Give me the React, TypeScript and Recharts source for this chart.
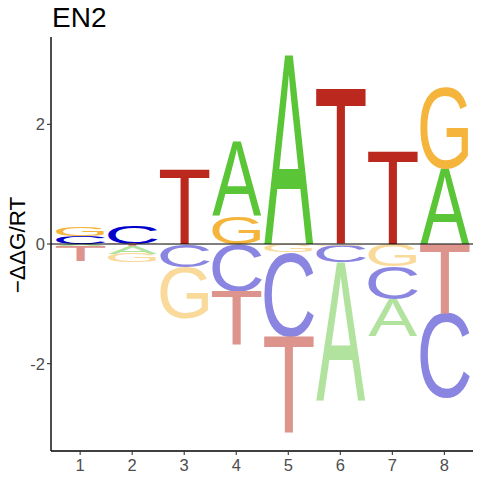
import React from 'react';
import { BarChart, Bar, XAxis, YAxis, ReferenceLine } from 'recharts';

// Position-wise -ΔΔG/RT values
const positions = [1, 2, 3, 4, 5, 6, 7, 8];
const valuesA = [-0.03, -0.12, -0.02, 1.23, 3.15, -2.3, -0.61, 1.25];
const valuesC = [0.13, 0.31, -0.37, -0.8, -1.42, -0.28, -0.55, -1.43];
const valuesG = [0.16, -0.15, -0.87, 0.47, -0.14, -0.03, -0.38, 1.36];
const valuesT = [-0.25, -0.04, 1.24, -0.89, -1.59, 2.59, 1.54, -1.16];
const letters = ['A', 'C', 'G', 'T'];
const xTicks = [1, 2, 3, 4, 5, 6, 7, 8];
const yTicks = [-2, 0, 2];
const title = 'EN2';
const yLabel = '\u2212\u0394\u0394G/RT';

const posColors: Record<string, string> = { A: '#5BC538', C: '#0000CC', G: '#F5B53C', T: '#BB291E' };
const negColors: Record<string, string> = { A: '#B1E39F', C: '#8A85E1', G: '#FADA9B', T: '#DC948D' };

const series: Record<string, number[]> = { A: valuesA, C: valuesC, G: valuesG, T: valuesT };

const data = positions.map((p, i) => {
  const row: any = { pos: p };
  const vals = letters.map((l) => ({ l, v: series[l][i] }));
  const up = vals.filter((d) => d.v > 0).sort((a, b) => a.v - b.v);
  const down = vals.filter((d) => d.v <= 0).sort((a, b) => b.v - a.v);
  let acc = 0;
  up.forEach((d) => {
    row[d.l] = [acc, acc + d.v];
    row[d.l + '_v'] = d.v;
    acc += d.v;
  });
  acc = 0;
  down.forEach((d) => {
    row[d.l] = [acc + d.v, acc];
    row[d.l + '_v'] = d.v;
    acc += d.v;
  });
  return row;
});

// approximate ink bounding boxes of Liberation Sans glyphs (font units / 2048)
const glyphBox: Record<string, number[]> = {
  A: [0, 1366, 0, 1409],
  C: [100, 1390, -25, 1434],
  G: [100, 1480, -25, 1434],
  T: [50, 1200, 0, 1409],
};

const FONT = "'Liberation Sans', Arial, sans-serif";

const makeShape = (letter: string) => (props: any) => {
  const { x, y, width, height, payload } = props;
  const top = Math.min(y, y + height);
  const h = Math.abs(height);
  if (!(h > 0.01) || !(width > 0)) return <g />;
  const v = payload[letter + '_v'];
  const color = v > 0 ? posColors[letter] : negColors[letter];
  const [x0, x1, y0, y1] = glyphBox[letter];
  const fs = 100;
  const u = fs / 2048;
  const sx = width / ((x1 - x0) * u);
  const sy = h / ((y1 - y0) * u);
  const tx = x - x0 * u * sx;
  const ty = top + y1 * u * sy;
  return (
    <text
      transform={`translate(${tx},${ty}) scale(${sx},${sy})`}
      fontSize={fs}
      fontFamily={FONT}
      fill={color}
    >
      {letter}
    </text>
  );
};

const shapes: Record<string, any> = {
  A: makeShape('A'),
  C: makeShape('C'),
  G: makeShape('G'),
  T: makeShape('T'),
};

export default function App() {
  return (
    <div style={{ position: 'fixed', left: 0, top: 0, width: 480, height: 480, background: '#fff' }}>
      <BarChart
        width={480}
        height={480}
        data={data}
        margin={{ top: 37, right: 7, bottom: 0, left: 0 }}
        barGap={-49}
      >
        <XAxis
          dataKey="pos"
          type="number"
          domain={[0.44, 8.55]}
          ticks={xTicks}
          height={29}
          tickSize={4}
          tickMargin={4}
          axisLine={{ stroke: '#000', strokeWidth: 1.4 }}
          tickLine={{ stroke: '#333', strokeWidth: 1.1 }}
          tick={{ fill: '#4D4D4D', fontSize: 16.5, fontFamily: FONT }}
          allowDataOverflow
        />
        <YAxis
          type="number"
          domain={[-3.46, 3.46]}
          ticks={yTicks}
          width={51}
          tickSize={4}
          tickMargin={2}
          axisLine={{ stroke: '#000', strokeWidth: 1.4 }}
          tickLine={{ stroke: '#333', strokeWidth: 1.1 }}
          tick={{ fill: '#4D4D4D', fontSize: 16.5, fontFamily: FONT }}
          allowDataOverflow
        />
        {letters.map((l) => (
          <Bar key={l} dataKey={l} barSize={49} shape={shapes[l]} isAnimationActive={false} />
        ))}
        <ReferenceLine y={0} stroke="#000" strokeWidth={1} ifOverflow="extendDomain" />
      </BarChart>
      <svg
        width={480}
        height={480}
        style={{ position: 'absolute', left: 0, top: 0, pointerEvents: 'none' }}
      >
        <text x={52} y={27} fontSize={28} fontFamily={FONT} fill="#000">
          {title}
        </text>
        <text
          transform="translate(25,245) rotate(-90)"
          textAnchor="middle"
          fontSize={22.5}
          fontFamily={FONT}
          fill="#000"
        >
          {yLabel}
        </text>
      </svg>
    </div>
  );
}
